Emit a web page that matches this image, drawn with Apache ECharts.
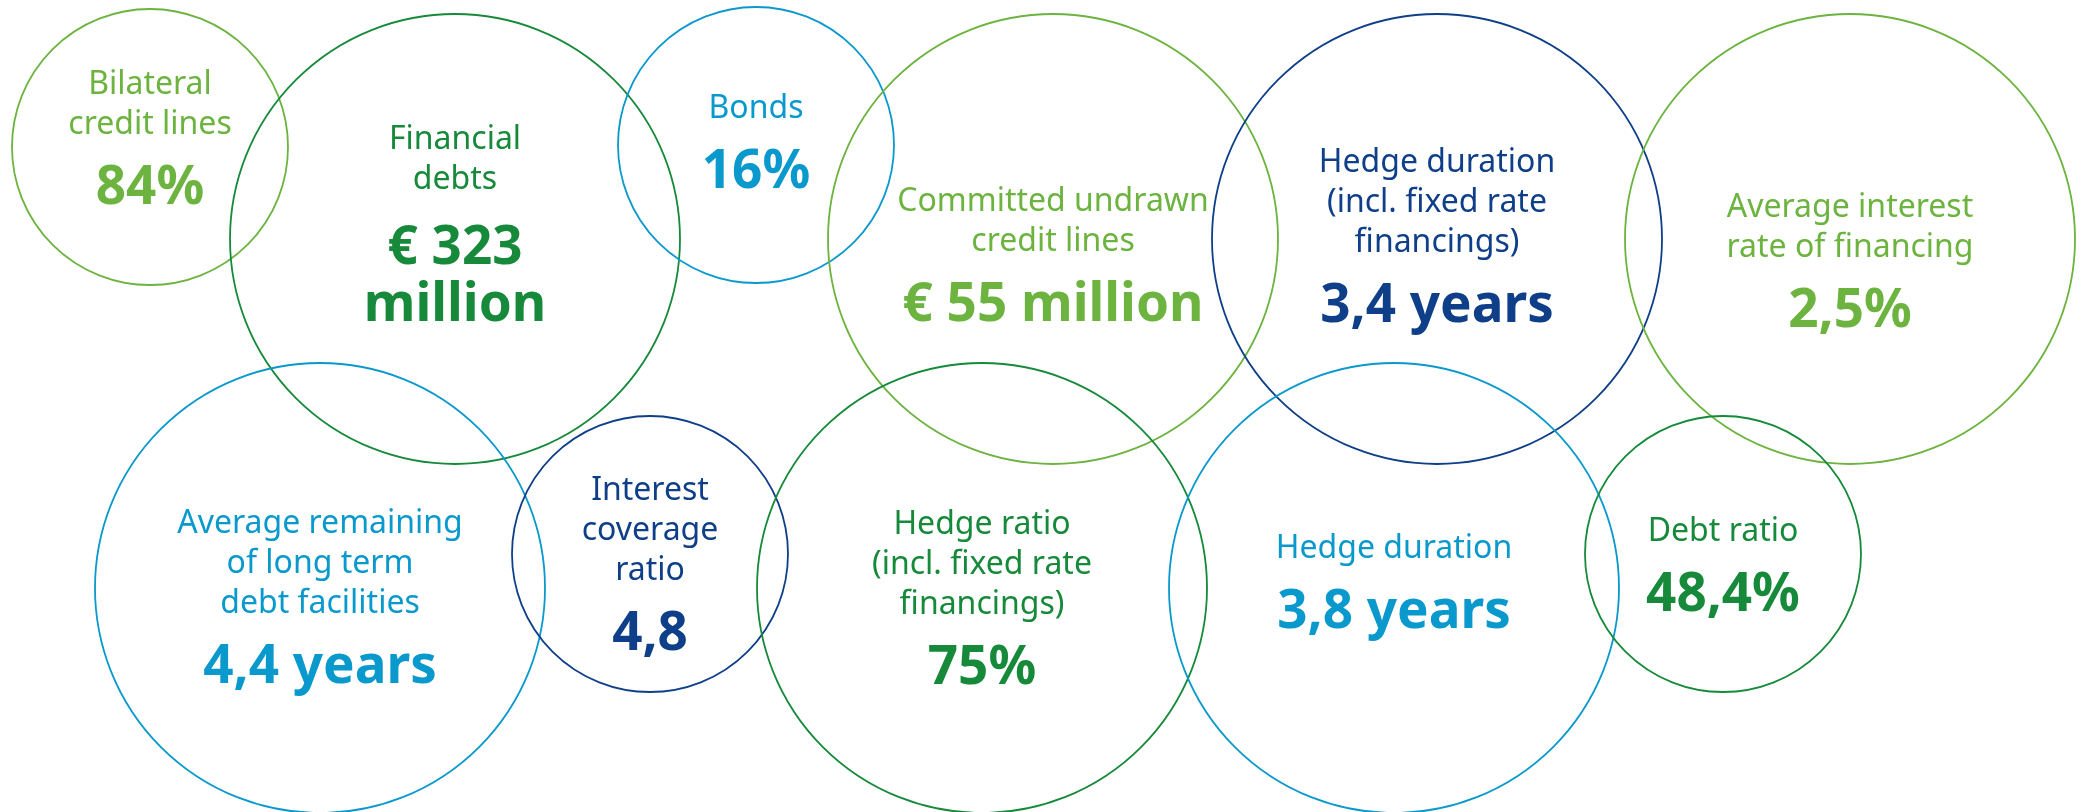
<!DOCTYPE html>
<html>
<head>
<meta charset="utf-8">
<script src="https://cdn.jsdelivr.net/npm/echarts@6/dist/echarts.min.js"></script>
<style>
  html, body { margin: 0; padding: 0; background: #fff; }
  #kpi { width: 2087px; height: 812px; }
</style>
</head>
<body>
<div id="kpi"></div>
<script>
// key figures shown in the circles
const metricLabels = [
  ['Bilateral', 'credit lines'],
  ['Financial', 'debts'],
  ['Bonds'],
  ['Committed undrawn', 'credit lines'],
  ['Hedge duration', '(incl. fixed rate', 'financings)'],
  ['Average interest', 'rate of financing'],
  ['Average remaining', 'of long term', 'debt facilities'],
  ['Interest', 'coverage', 'ratio'],
  ['Hedge ratio', '(incl. fixed rate', 'financings)'],
  ['Hedge duration'],
  ['Debt ratio']
];
const metricValues = [
  ['84%'],
  ['€ 323', 'million'],
  ['16%'],
  ['€ 55 million'],
  ['3,4 years'],
  ['2,5%'],
  ['4,4 years'],
  ['4,8'],
  ['75%'],
  ['3,8 years'],
  ['48,4%']
];

// layout (pixels) and colour of each circle
const circleX = [150, 455, 756, 1053, 1437, 1850, 320, 650, 982, 1394, 1723];
const circleY = [147, 239, 145, 239, 239, 239, 588, 554, 588, 588, 554];
const circleR = [138, 225, 138, 225, 225, 225, 225, 138, 225, 225, 138];
const textDy = [-6, -12, 0, 19, 0, 25, 12, 13, 13, -3, 14];
const gapKey = ['s', 'g', 's', 's', 's', 's', 's', 's', 's', 's', 's'];

const lightGreen = '#6cb33f', darkGreen = '#168a3a', blue = '#0a99cc', navy = '#0f3f88';
const circleColor = [lightGreen, darkGreen, blue, lightGreen, navy, lightGreen, blue, navy, darkGreen, blue, darkGreen];

const myChart = echarts.init(document.getElementById('kpi'));

const points = metricLabels.map((lab, i) => ({
  value: [circleX[i], circleY[i]],
  symbolSize: circleR[i] * 2,
  itemStyle: { color: 'rgba(0,0,0,0)', borderColor: circleColor[i], borderWidth: 1.8, opacity: 1 },
  label: {
    show: true,
    position: 'inside',
    offset: [0, textDy[i]],
    color: circleColor[i],
    formatter: lab.map(t => '{l|' + t + '}').join('\n') + '\n{' + gapKey[i] + '| }\n' +
      metricValues[i].map(t => '{v|' + t + '}').join('\n')
  }
}));

let option = {
  animation: false,
  grid: { left: 0, right: 0, top: 0, bottom: 0 },
  xAxis: { type: 'value', min: 0, max: 2087, show: false },
  yAxis: { type: 'value', min: 0, max: 812, inverse: true, show: false },
  series: [{
    type: 'scatter',
    symbol: 'circle',
    silent: true,
    clip: false,
    itemStyle: { opacity: 1 },
    data: points,
    label: {
      fontFamily: 'Noto Sans',
      align: 'center',
      rich: {
        l: { fontFamily: 'Noto Sans', fontSize: 32, lineHeight: 40, align: 'center' },
        s: { fontSize: 1, lineHeight: 16 },
        g: { fontSize: 1, lineHeight: 20 },
        v: { fontFamily: 'Noto Sans', fontSize: 53, fontWeight: 'bold', lineHeight: 57, align: 'center' }
      }
    }
  }]
};

myChart.setOption(option);
</script>
</body>
</html>
